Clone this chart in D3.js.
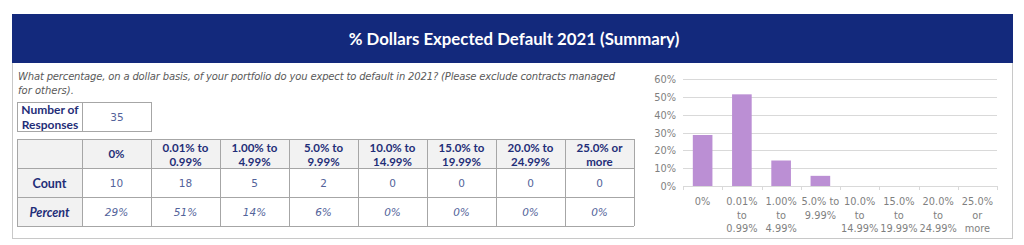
<!DOCTYPE html>
<html>
<head>
<meta charset="utf-8">
<script src="https://cdn.jsdelivr.net/npm/d3@7"></script>
<style>
  body { margin: 0; background: #fff; }
  svg text { font-family: "DejaVu Sans", Lato, sans-serif; }
  svg text.b { font-family: Lato, "DejaVu Sans", sans-serif; font-weight: bold; }
</style>
</head>
<body>
<div id="viz"></div>
<script>
// data
var title = "% Dollars Expected Default 2021 (Summary)";
var question = ["What percentage, on a dollar basis, of your portfolio do you expect to default in 2021? (Please exclude contracts managed",
                "for others)."];
var responses = 35;
var categories = ["0%", "0.01% to|0.99%", "1.00% to|4.99%", "5.0% to|9.99%", "10.0% to|14.99%",
                  "15.0% to|19.99%", "20.0% to|24.99%", "25.0% or|more"];
var chartLabels = ["0%", "0.01%|to|0.99%", "1.00%|to|4.99%", "5.0% to|9.99%", "10.0%|to|14.99%",
                   "15.0%|to|19.99%", "20.0%|to|24.99%", "25.0%|or|more"];
var counts = [10, 18, 5, 2, 0, 0, 0, 0];
var percents = [28.6, 51.4, 14.3, 5.7, 0, 0, 0, 0];
var yTicks = [0, 10, 20, 30, 40, 50, 60];

var W = 1024, H = 245;
var navy = "#13297c", textNavy = "#1f2e78", valColor = "#53639a", gridGray = "#d9d9d9";

var svg = d3.select("#viz").append("svg").attr("width", W).attr("height", H);

// outer box + header
svg.append("rect").attr("x", 12.5).attr("y", 14.5).attr("width", 1000).attr("height", 224)
   .attr("fill", "#fff").attr("stroke", "#c8c8c8");
svg.append("rect").attr("x", 12).attr("y", 14).attr("width", 1001).attr("height", 49).attr("fill", navy);
svg.append("text").attr("class", "b").attr("x", 514).attr("y", 45).attr("text-anchor", "middle")
   .attr("fill", "#fff").attr("font-size", 16.8).text(title);

// question
svg.selectAll(".q").data(question).enter().append("text")
   .attr("x", 18).attr("y", function(d, i) { return 80 + i * 14; })
   .attr("font-size", 10).attr("font-style", "italic").attr("fill", "#595959")
   .attr("textLength", function(d, i) { return i === 0 ? 597 : null; })
   .text(function(d) { return d; });

// number of responses box
var nr = svg.append("g");
nr.append("rect").attr("x", 17.5).attr("y", 102.5).attr("width", 65).attr("height", 29).attr("fill", "#fff").attr("stroke", "#a6a6a6");
nr.append("rect").attr("x", 82.5).attr("y", 102.5).attr("width", 69).attr("height", 29).attr("fill", "#fff").attr("stroke", "#a6a6a6");
nr.append("text").attr("class", "b").attr("x", 50).attr("y", 114).attr("text-anchor", "middle").attr("font-size", 12)
  .attr("fill", textNavy).text("Number of");
nr.append("text").attr("class", "b").attr("x", 50).attr("y", 128.5).attr("text-anchor", "middle").attr("font-size", 12)
  .attr("fill", textNavy).text("Responses");
nr.append("text").attr("x", 117).attr("y", 121).attr("text-anchor", "middle").attr("font-size", 10.5)
  .attr("fill", valColor).text(responses);

// main table
var tX = d3.scaleBand().domain(d3.range(categories.length)).range([82, 634]);
var firstW = 65, tLeft = 17;
var rowsY = [139, 168, 197, 226];
var tbl = svg.append("g");
// header row background
tbl.append("rect").attr("x", tLeft).attr("y", rowsY[0]).attr("width", 634 - tLeft).attr("height", rowsY[1] - rowsY[0]).attr("fill", "#f2f2f2");
tbl.append("rect").attr("x", tLeft).attr("y", rowsY[1]).attr("width", firstW).attr("height", rowsY[3] - rowsY[1]).attr("fill", "#f2f2f2");
// grid lines
rowsY.forEach(function(y) {
  tbl.append("line").attr("x1", tLeft).attr("x2", 634).attr("y1", y + 0.5).attr("y2", y + 0.5).attr("stroke", "#a6a6a6");
});
[tLeft].concat(categories.map(function(d, i) { return tX(i); })).concat([634]).forEach(function(x) {
  tbl.append("line").attr("x1", x + 0.5).attr("x2", x + 0.5).attr("y1", rowsY[0]).attr("y2", rowsY[3]).attr("stroke", "#a6a6a6");
});
// header labels
categories.forEach(function(c, i) {
  var lines = c.split("|");
  var cx = tX(i) + tX.bandwidth() / 2;
  var y0 = lines.length === 1 ? 158 : 152;
  lines.forEach(function(l, j) {
    tbl.append("text").attr("class", "b").attr("x", cx).attr("y", y0 + j * 13.5).attr("text-anchor", "middle")
       .attr("font-size", 11.5).attr("fill", textNavy).text(l);
  });
  tbl.append("text").attr("x", cx).attr("y", 187).attr("text-anchor", "middle")
     .attr("font-size", 10.5).attr("fill", valColor).text(counts[i]);
  tbl.append("text").attr("x", cx).attr("y", 216).attr("text-anchor", "middle")
     .attr("font-size", 10.5).attr("font-style", "italic").attr("fill", valColor).text(Math.round(percents[i]) + "%");
});
tbl.append("text").attr("class", "b").attr("x", tLeft + firstW / 2).attr("y", 187.5).attr("text-anchor", "middle")
   .attr("font-size", 12.5).attr("fill", textNavy).text("Count");
tbl.append("text").attr("class", "b").attr("x", tLeft + firstW / 2).attr("y", 216.5).attr("text-anchor", "middle")
   .attr("font-size", 12.5).attr("font-style", "italic").attr("fill", textNavy).text("Percent");

// bar chart
var cx0 = 683, cx1 = 997;
var x = d3.scaleBand().domain(d3.range(chartLabels.length)).range([cx0, cx1]).paddingInner(0.5).paddingOuter(0.25);
var y = d3.scaleLinear().domain([0, 60]).range([186, 79]);
var ch = svg.append("g");
ch.selectAll(".grid").data(yTicks.slice(1)).enter().append("line")
  .attr("x1", cx0).attr("x2", cx1).attr("y1", function(d) { return Math.round(y(d)) + 0.5; })
  .attr("y2", function(d) { return Math.round(y(d)) + 0.5; }).attr("stroke", gridGray);
ch.selectAll(".yl").data(yTicks).enter().append("text")
  .attr("x", 676).attr("y", function(d) { return y(d) + 4; }).attr("text-anchor", "end")
  .attr("font-size", 9.8).attr("fill", "#7f7f7f").text(function(d) { return d + "%"; });
ch.selectAll(".bar").data(percents).enter().append("rect")
  .attr("x", function(d, i) { return x(i); }).attr("width", x.bandwidth())
  .attr("y", function(d) { return y(d); }).attr("height", function(d) { return y(0) - y(d); })
  .attr("fill", "#bb8fd4");
// baseline and ticks
ch.append("line").attr("x1", cx0).attr("x2", cx1).attr("y1", 186.5).attr("y2", 186.5).attr("stroke", gridGray);
var step = (cx1 - cx0) / chartLabels.length;
d3.range(chartLabels.length + 1).forEach(function(i) {
  var tx = Math.round(cx0 + i * step) + 0.5;
  ch.append("line").attr("x1", tx).attr("x2", tx).attr("y1", 186).attr("y2", 190).attr("stroke", gridGray);
});
chartLabels.forEach(function(c, i) {
  var mid = cx0 + (i + 0.5) * step;
  c.split("|").forEach(function(l, j) {
    ch.append("text").attr("x", mid).attr("y", 205 + j * 13.5).attr("text-anchor", "middle")
      .attr("font-size", 9.8).attr("fill", "#7f7f7f").text(l);
  });
});
</script>
</body>
</html>
